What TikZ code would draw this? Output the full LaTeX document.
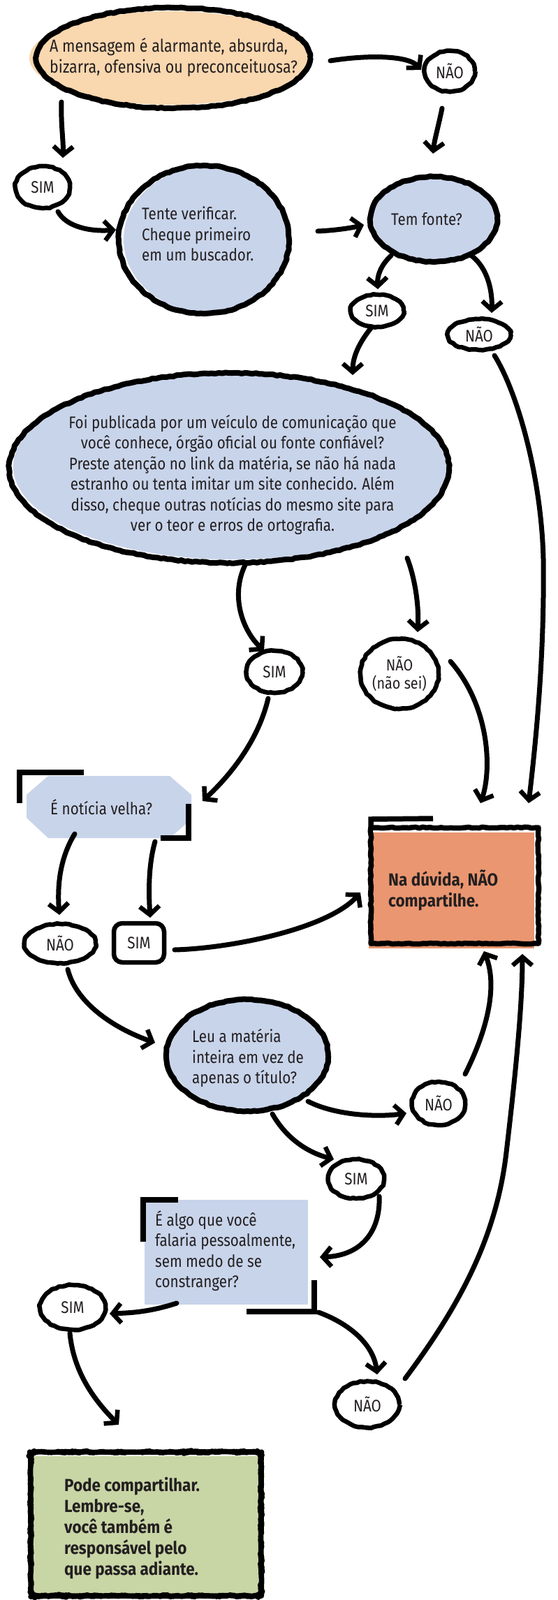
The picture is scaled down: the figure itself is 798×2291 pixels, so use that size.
\documentclass[tikz,border=0pt]{standalone}
\usepackage{fontspec}
\setmainfont{Fira Sans}[FakeStretch=0.86, BoldFeatures={FakeStretch=0.9}]
\usetikzlibrary{shapes.geometric,arrows.meta,decorations.pathmorphing}
\definecolor{peach}{HTML}{F9D7AF}
\definecolor{bluish}{HTML}{C8D4EA}
\definecolor{salmon}{HTML}{EA9670}
\definecolor{sage}{HTML}{C8D5A5}
\definecolor{ink}{HTML}{231F20}
\begin{document}
\begin{tikzpicture}[x=1pt,y=-1pt,
  rough/.style={decorate, decoration={random steps, segment length=5pt, amplitude=0.8pt}},
  bub/.style={ellipse, draw=black, line width=8pt, line join=round, rough, inner sep=0pt},
  lbl/.style={ellipse, draw=black, line width=6.5pt, line join=round, rough, inner sep=0pt, text=ink, font=\fontsize{24}{27}\selectfont},
  txt/.style={inner sep=0pt, text=ink, font=\fontsize{24}{29.5}\selectfont, align=left},
  btxt/.style={txt, font=\fontsize{25}{30}\selectfont\bfseries},
  arr/.style={line width=7pt, line cap=round, -{Straight Barb[length=12pt,width=28pt,line width=6.5pt]}},
  bracket/.style={line width=7.5pt, line cap=butt, line join=miter}
]
\fill[white] (0,0) rectangle (798,2291);
\useasboundingbox (0,0) rectangle (798,2291);

% ---------- fills ----------
\fill[peach] (244,83) ellipse [x radius=202, y radius=67];
\fill[bluish] (297,343) ellipse [x radius=120, y radius=104];
\fill[bluish] (624,312) ellipse [x radius=90, y radius=61];
\fill[bluish] (332,668) ellipse [x radius=313, y radius=133];
\fill[bluish] (357,1509) ellipse [x radius=116, y radius=78];
\fill[bluish] (69,1111) -- (243,1111) -- (274,1138) -- (274,1173) -- (243,1200) -- (69,1200) -- (38,1171) -- (38,1138) -- cycle;
\fill[bluish] (207,1718) rectangle (441,1868);
\fill[salmon] (528,1192) rectangle (765,1358);
\fill[sage] (47,2085) rectangle (370,2286);

% ---------- nodes ----------
\node[bub, minimum width=392pt, minimum height=144pt] (q1) at (248,83) {};
\node[lbl, minimum width=72pt, minimum height=58pt] (n1) at (644,102) {NÃO};
\node[lbl, minimum width=78pt, minimum height=60pt] (s1) at (61,268) {SIM};
\node[bub, minimum width=244pt, minimum height=212pt] (q2) at (292,343) {};
\node[bub, minimum width=182pt, minimum height=122pt] (q3) at (621,314) {};
\node[lbl, minimum width=76pt, minimum height=46pt] (s2) at (540,445) {SIM};
\node[lbl, minimum width=90pt, minimum height=44pt] (n2) at (686,479) {NÃO};
\node[bub, minimum width=630pt, minimum height=272pt] (q4) at (328,670) {};
\node[lbl, minimum width=80pt, minimum height=60pt] (s3) at (393,962) {SIM};
\node[lbl, minimum width=112pt, minimum height=100pt, align=center, font=\fontsize{23}{26}\selectfont] (n3) at (572,965) {NÃO\\(não sei)};
\node[minimum width=236pt, minimum height=89pt, inner sep=0pt] (q5) at (155,1155) {};
\node[lbl, minimum width=102pt, minimum height=56pt] (n4) at (86,1351) {NÃO};
\node[draw=black, line width=6.5pt, rectangle, rounded corners=12pt, minimum width=72pt, minimum height=56pt, inner sep=0pt, text=ink, font=\fontsize{24}{27}\selectfont] (s4) at (199,1350) {SIM};
\node[draw=black, line width=7.5pt, line join=round, rough, minimum width=240pt, minimum height=166pt, inner sep=0pt] (r1) at (651,1268) {};
\node[bub, minimum width=232pt, minimum height=160pt] (q6) at (354,1511) {};
\node[lbl, minimum width=76pt, minimum height=62pt] (n5) at (628,1580) {NÃO};
\node[lbl, minimum width=80pt, minimum height=56pt] (s5) at (510,1688) {SIM};
\node[minimum width=234pt, minimum height=150pt, inner sep=0pt] (q7) at (324,1793) {};
\node[lbl, minimum width=94pt, minimum height=64pt] (s6) at (104,1872) {SIM};
\node[lbl, minimum width=92pt, minimum height=66pt] (n6) at (526,2011) {NÃO};
\node[draw=black, line width=7.5pt, line join=round, rough, rounded corners=8pt, minimum width=330pt, minimum height=206pt, inner sep=0pt] (r2) at (209,2182) {};

% extra strokes of the boxes
\draw[bracket] (28,1150) -- (28,1106) -- (120,1106);
\draw[bracket] (270,1151) -- (270,1200) -- (230,1200);
\draw[bracket] (205,1778) -- (205,1718) -- (255,1718);
\draw[bracket] (450,1833) -- (450,1878) -- (353,1878);
\draw[bracket] (531,1188) -- (531,1173) -- (620,1172);

% ---------- texts ----------
\node[txt, anchor=west, font=\fontsize{25}{30}\selectfont] (q1t) at (71,82) {A mensagem é alarmante, absurda,\\bizarra, ofensiva ou preconceituosa?};
\node[txt, anchor=west] (q2t) at (203,335) {Tente verificar.\\Cheque primeiro\\em um buscador.};
\node[txt] (q3t) at (611,314) {Tem fonte?};
\node[txt, align=center] (q4t) at (333,680) {Foi publicada por um veículo de comunicação que\\você conhece, órgão oficial ou fonte confiável?\\Preste atenção no link da matéria, se não há nada\\estranho ou tenta imitar um site conhecido. Além\\disso, cheque outras notícias do mesmo site para\\ver o teor e erros de ortografia.};
\node[txt, anchor=west] (q5t) at (72,1156) {É notícia velha?};
\node[btxt, anchor=west] (r1t) at (556,1275) {Na dúvida, NÃO\\compartilhe.};
\node[txt, anchor=west] (q6t) at (275,1515) {Leu a matéria\\inteira em vez de\\apenas o título?};
\node[txt, anchor=west] (q7t) at (222,1791) {É algo que você\\falaria pessoalmente,\\sem medo de se\\constranger?};
\node[btxt, anchor=west] (r2t) at (92,2188) {Pode compartilhar.\\Lembre-se,\\você também é\\responsável pelo\\que passa adiante.};

% ---------- connectors ----------
\draw[arr] ([shift={(-160,63)}]q1.center) .. controls ([shift={(-161,97)}]q1.center) and ([shift={(30,-68)}]s1.center) .. ([shift={(29,-42)}]s1.center);
\draw[arr] ([shift={(225,4)}]q1.center) .. controls ([shift={(282,-5)}]q1.center) and ([shift={(-59,-22)}]n1.center) .. ([shift={(-41,-2)}]n1.center);
\draw[arr] ([shift={(-11,53)}]n1.center) .. controls ([shift={(-16,78)}]n1.center) and ([shift={(1,-114)}]q3.center) .. ([shift={(-1,-94)}]q3.center);
\draw[arr] ([shift={(22,35)}]s1.center) .. controls ([shift={(34,57)}]s1.center) and ([shift={(-162,-11)}]q2.center) .. ([shift={(-126,-14)}]q2.center);
\draw[arr] ([shift={(163,-12)}]q2.center) .. controls ([shift={(188,-13)}]q2.center) and ([shift={(-116,12)}]q3.center) .. ([shift={(-100,8)}]q3.center);
\draw[arr] ([shift={(-61,52)}]q3.center) .. controls ([shift={(-76,66)}]q3.center) and ([shift={(0,-50)}]s2.center) .. ([shift={(1,-31)}]s2.center);
\draw[arr] ([shift={(54,52)}]q3.center) .. controls ([shift={(79,71)}]q3.center) and ([shift={(19,-59)}]n2.center) .. ([shift={(18,-31)}]n2.center);
\draw[arr] ([shift={(-9,25)}]s2.center) .. controls ([shift={(-25,45)}]s2.center) and ([shift={(177,-160)}]q4.center) .. ([shift={(177,-133)}]q4.center);
\draw[arr] ([shift={(22,30)}]n2.center) .. controls ([shift={(54,81)}]n2.center) and ([shift={(89,201)}]n2.center) .. ([shift={(92,321)}]n2.center) .. controls ([shift={(94,471)}]n2.center) and ([shift={(114,-188)}]r1.center) .. ([shift={(106,-118)}]r1.center);
\draw[arr] ([shift={(24,137)}]q4.center) .. controls ([shift={(2,180)}]q4.center) and ([shift={(-48,-62)}]s3.center) .. ([shift={(-15,-30)}]s3.center);
\draw[arr] ([shift={(255,129)}]q4.center) .. controls ([shift={(267,160)}]q4.center) and ([shift={(28,-95)}]n3.center) .. ([shift={(26,-60)}]n3.center);
\draw[arr] ([shift={(-9,38)}]s3.center) .. controls ([shift={(-23,98)}]s3.center) and ([shift={(175,-45)}]q5.center) .. ([shift={(135,-8)}]q5.center);
\draw[arr] ([shift={(73,-18)}]n3.center) .. controls ([shift={(128,45)}]n3.center) and ([shift={(54,-168)}]r1.center) .. ([shift={(37,-118)}]r1.center);
\draw[arr] ([shift={(-48,39)}]q5.center) .. controls ([shift={(-70,75)}]q5.center) and ([shift={(-4,-81)}]n4.center) .. ([shift={(-1,-41)}]n4.center);
\draw[arr] ([shift={(67,50)}]q5.center) .. controls ([shift={(57,85)}]q5.center) and ([shift={(14,-70)}]s4.center) .. ([shift={(16,-36)}]s4.center);
\draw[arr] ([shift={(51,10)}]s4.center) .. controls ([shift={(131,8)}]s4.center) and ([shift={(-181,62)}]r1.center) .. ([shift={(-135,10)}]r1.center);
\draw[arr] ([shift={(11,37)}]n4.center) .. controls ([shift={(24,89)}]n4.center) and ([shift={(-184,-36)}]q6.center) .. ([shift={(-132,-18)}]q6.center);
\draw[arr] ([shift={(87,66)}]q6.center) .. controls ([shift={(126,86)}]q6.center) and ([shift={(-88,20)}]n5.center) .. ([shift={(-46,14)}]n5.center);
\draw[arr] ([shift={(36,84)}]q6.center) .. controls ([shift={(56,119)}]q6.center) and ([shift={(-70,-38)}]s5.center) .. ([shift={(-32,-28)}]s5.center);
\draw[arr] ([shift={(38,-42)}]n5.center) .. controls ([shift={(72,-110)}]n5.center) and ([shift={(61,142)}]r1.center) .. ([shift={(42,94)}]r1.center);
\draw[arr] ([shift={(54,-37)}]n6.center) .. controls ([shift={(124,-131)}]n6.center) and ([shift={(184,-231)}]n6.center) .. ([shift={(199,-361)}]n6.center) .. controls ([shift={(212,-471)}]n6.center) and ([shift={(97,172)}]r1.center) .. ([shift={(97,98)}]r1.center);
\draw[arr] ([shift={(33,25)}]s5.center) .. controls ([shift={(35,72)}]s5.center) and ([shift={(196,5)}]q7.center) .. ([shift={(134,7)}]q7.center);
\draw[arr] ([shift={(-71,73)}]q7.center) .. controls ([shift={(-114,87)}]q7.center) and ([shift={(76,8)}]s6.center) .. ([shift={(53,9)}]s6.center);
\draw[arr] ([shift={(132,86)}]q7.center) .. controls ([shift={(176,102)}]q7.center) and ([shift={(9,-86)}]n6.center) .. ([shift={(14,-43)}]n6.center);
\draw[arr] ([shift={(-4,37)}]s6.center) .. controls ([shift={(1,88)}]s6.center) and ([shift={(-79,-182)}]r2.center) .. ([shift={(-39,-142)}]r2.center);
\end{tikzpicture}
\end{document}
